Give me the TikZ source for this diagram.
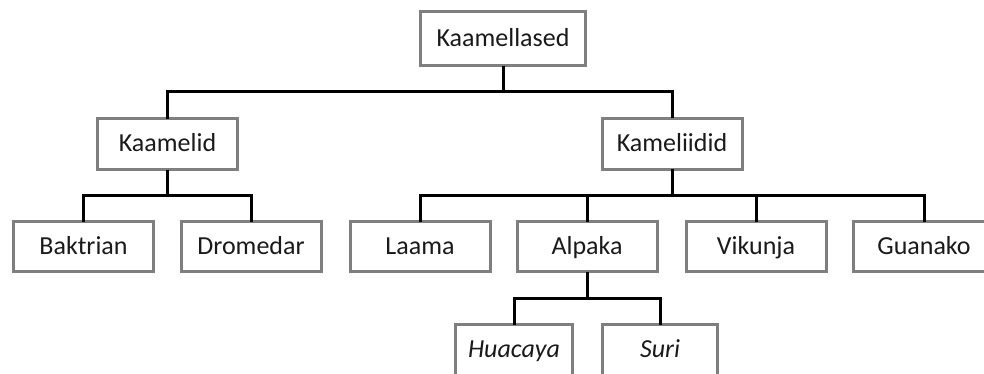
\documentclass[tikz,border=0pt]{standalone}
\usepackage{fontspec}
\setmainfont{Carlito}
\begin{document}
\begin{tikzpicture}[x=1pt,y=-1pt,
  box/.style={draw=boxgray,line width=3pt,fill=white,outer sep=0pt,inner sep=0pt,
    minimum width=#1,minimum height=50pt,font=\fontsize{26}{30}\selectfont,text=textdark,
    text height=19pt,text depth=4pt},
  box/.default=140pt,
  conn/.style={draw=black,line width=3pt}]
\definecolor{boxgray}{HTML}{7F7F7F}
\definecolor{textdark}{HTML}{1A1A1A}
\clip (0,0) rectangle (984,373);
\fill[white] (0,0) rectangle (984,373);
% nodes
\node[box=165pt,minimum height=54pt] (root) at (503,38.5) {Kaamellased};
\node[box=140pt,minimum height=51pt] (kaamelid) at (167.5,144) {Kaamelid};
\node[box=140pt,minimum height=51pt] (kameliidid) at (672,143.5) {Kameliidid};
\node[box] (baktrian) at (83.5,246.5) {Baktrian};
\node[box] (dromedar) at (251,246.5) {Dromedar};
\node[box] (laama) at (420,246.5) {Laama};
\node[box] (alpaka) at (587,246.5) {Alpaka};
\node[box] (vikunja) at (756,246.5) {Vikunja};
\node[box=141pt] (guanako) at (924,246.5) {Guanako};
\node[box=117pt,minimum height=55pt] (huacaya) at (514,352) {\raisebox{2pt}{\itshape Huacaya}};
\node[box=115pt,minimum height=55pt] (suri) at (660,352) {\raisebox{2pt}{\itshape Suri}};
% connectors
\coordinate (bus1) at (0,91);
\coordinate (bus2) at (0,195.5);
\coordinate (bus3) at (0,298);
\foreach \c in {kaamelid,kameliidid}
  \draw[conn] (root.south) -- (root.south |- bus1) -| (\c.north);
\foreach \c in {baktrian,dromedar}
  \draw[conn] (kaamelid.south) -- (kaamelid.south |- bus2) -| (\c.north);
\foreach \c in {laama,alpaka,vikunja,guanako}
  \draw[conn] (kameliidid.south) -- (kameliidid.south |- bus2) -| (\c.north);
\foreach \c in {huacaya,suri}
  \draw[conn] (alpaka.south) -- (alpaka.south |- bus3) -| (\c.north);
\end{tikzpicture}
\end{document}
